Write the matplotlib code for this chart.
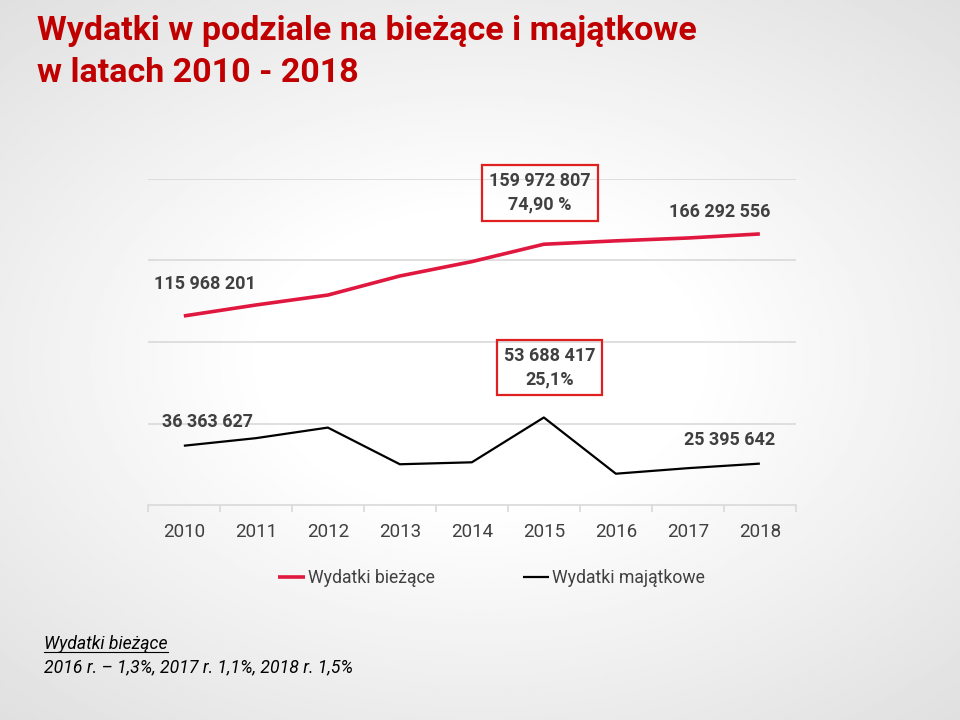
import matplotlib.pyplot as plt
import numpy as np
from matplotlib.lines import Line2D

plt.rcParams['font.family'] = ['Roboto', 'DejaVu Sans']

lata = ['2010', '2011', '2012', '2013', '2014', '2015', '2016', '2017', '2018']
biezace = [115968201, 122700000, 128800000, 140500000, 149300000, 159972807, 162050000, 163800000, 166292556]
majatkowe = [36363627, 41000000, 47500000, 25000000, 26200000, 53688417, 19200000, 22600000, 25395642]

tytul = "Wydatki w podziale na bieżące i majątkowe\nw latach 2010 - 2018"
przypis_naglowek = "Wydatki bieżące"
przypis = "2016 r. – 1,3%, 2017 r. 1,1%, 2018 r. 1,5%"

CZERWONY = '#e0173e'
SZARY = '#404040'


def fmt(v):
    return f"{v:,}".replace(",", " ")


fig = plt.figure(figsize=(9.6, 7.2), dpi=100)

# tlo - jasny winietowany gradient
tlo = fig.add_axes([0, 0, 1, 1], zorder=-10)
yy, xx = np.mgrid[-1:1:300j, -1:1:400j]
r = np.sqrt((xx * 0.9) ** 2 + (yy * 1.0) ** 2)
tlo.imshow(1 - 0.13 * np.clip(r - 0.4, 0, None), cmap='gray', vmin=0, vmax=1,
           aspect='auto', extent=[0, 1, 0, 1])
tlo.axis('off')

fig.text(0.039, 0.979, tytul, color='#c00000', fontsize=24.5, fontweight='bold',
         va='top', ha='left', linespacing=1.38)

ax = fig.add_axes([0.154, 0.2986, 0.675, 0.4528])
ax.patch.set_alpha(0)
x = np.arange(len(lata))
ax.plot(x, biezace, color=CZERWONY, lw=2.6, label='Wydatki bieżące', solid_capstyle='butt')
ax.plot(x, majatkowe, color='black', lw=1.6, label='Wydatki majątkowe', solid_capstyle='butt')

ax.set_xlim(-0.5, len(lata) - 0.5)
ax.set_ylim(0, 200000000)
ax.set_yticks([50000000, 100000000, 150000000, 200000000])
ax.yaxis.grid(True, color='#d9d9d9', lw=1.2)
ax.set_yticklabels([])
ax.tick_params(axis='y', length=0)
ax.set_xticks(x)
ax.set_xticklabels(lata, fontsize=13.5, color=SZARY)
ax.set_xticks(np.arange(-0.5, len(lata)), minor=True)
ax.tick_params(axis='x', which='major', length=0, pad=13)
ax.tick_params(axis='x', which='minor', length=5, color='#d9d9d9', width=1.2)
for s in ['top', 'right', 'left']:
    ax.spines[s].set_visible(False)
ax.spines['bottom'].set_color('#d9d9d9')
ax.spines['bottom'].set_linewidth(1.2)
ax.set_axisbelow(True)

etyk = dict(textcoords='offset points', ha='center', va='center', fontsize=13,
            color=SZARY, fontweight='bold')
ax.annotate(fmt(biezace[0]), (0, biezace[0]), xytext=(15, 23), **etyk)
ax.annotate(fmt(biezace[-1]), (8, biezace[-1]), xytext=(-29, 16), **etyk)
ax.annotate(fmt(biezace[5]) + "\n74,90 %", (5, biezace[5]), xytext=(-3, 37), linespacing=1.4,
            bbox=dict(boxstyle='square,pad=0.4', fc='none', ec='#e02020', lw=1.6), **etyk)
ax.annotate(fmt(majatkowe[0]), (0, majatkowe[0]), xytext=(17, 17), **etyk)
ax.annotate(fmt(majatkowe[-1]), (8, majatkowe[-1]), xytext=(-22, 17), **etyk)
ax.annotate(fmt(majatkowe[5]) + "\n25,1%", (5, majatkowe[5]), xytext=(4, 36), linespacing=1.4,
            bbox=dict(boxstyle='square,pad=0.38', fc='none', ec='#e02020', lw=1.6), **etyk)

fig.legend(loc='center', bbox_to_anchor=(0.512, 0.197), ncol=2, frameon=False,
           fontsize=12.7, handlelength=1.5, handletextpad=0.15, columnspacing=5.0,
           labelcolor=SZARY)

t0 = fig.text(0.046, 1 - 649 / 720, przypis_naglowek, fontsize=12.7, style='italic', color='black',
              va='baseline', ha='left')
fig.text(0.046, 1 - 672 / 720, przypis, fontsize=12.7, style='italic', color='black',
         va='baseline', ha='left')
# podkreslenie naglowka przypisu
r_ = fig.canvas.get_renderer()
bb = t0.get_window_extent(r_).transformed(fig.transFigure.inverted())
yl = 1 - 652 / 720
fig.add_artist(Line2D([bb.x0, bb.x1], [yl, yl], color='black', lw=0.8,
                      transform=fig.transFigure))

fig.savefig('out.png', dpi=100)
